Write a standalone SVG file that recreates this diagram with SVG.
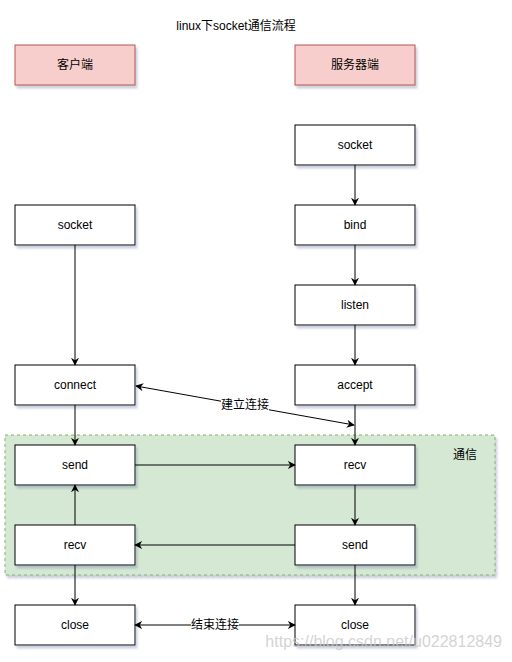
<svg xmlns="http://www.w3.org/2000/svg" width="512" height="662" viewBox="0 0 512 662">
<style>
.box{fill:#ffffff;stroke:#000000;stroke-width:1;filter:url(#sh)}
.hdr{fill:#f8cecc;stroke:#b85450;stroke-width:1;filter:url(#sh)}
.t{font-family:"Liberation Sans","Noto Sans CJK SC",sans-serif;font-size:12px;fill:#000;text-anchor:middle;dominant-baseline:central}
.e{fill:none;stroke:#000;stroke-width:1}
.lbl{fill:#ffffff}
</style>
<defs>
<filter id="sh" x="-10%" y="-10%" width="130%" height="140%">
<feGaussianBlur in="SourceAlpha" stdDeviation="1"/>
<feOffset dx="2" dy="3" result="o"/>
<feFlood flood-color="#6c7a9c" flood-opacity="0.35"/>
<feComposite in2="o" operator="in"/>
<feMerge><feMergeNode/><feMergeNode in="SourceGraphic"/></feMerge>
</filter>
<marker id="ar" viewBox="0 0 10 10" refX="9" refY="5" markerWidth="8" markerHeight="8" markerUnits="userSpaceOnUse" orient="auto-start-reverse">
<path d="M0,0 L10,5 L0,10 L3,5 Z" fill="#000"/>
</marker>
</defs>
<rect width="512" height="662" fill="#ffffff"/>
<text class="t" x="236" y="26">linux下socket通信流程</text>
<g id="comm">
<rect x="5" y="435" width="490" height="140" fill="#d5e8d4" stroke="#82b366" stroke-dasharray="3,3" filter="url(#sh)"/>
<text class="t" x="465" y="455">通信</text>
</g>
<g id="client-hdr"><rect class="hdr" x="15" y="45" width="120" height="40"/><text class="t" x="75" y="65">客户端</text></g>
<g id="server-hdr"><rect class="hdr" x="295" y="45" width="120" height="40"/><text class="t" x="355" y="65">服务器端</text></g>
<g id="s-socket"><rect class="box" x="295" y="125" width="120" height="40"/><text class="t" x="355" y="145">socket</text></g>
<g id="s-bind"><rect class="box" x="295" y="205" width="120" height="40"/><text class="t" x="355" y="225">bind</text></g>
<g id="s-listen"><rect class="box" x="295" y="285" width="120" height="40"/><text class="t" x="355" y="305">listen</text></g>
<g id="s-accept"><rect class="box" x="295" y="365" width="120" height="40"/><text class="t" x="355" y="385">accept</text></g>
<g id="s-recv"><rect class="box" x="295" y="445" width="120" height="40"/><text class="t" x="355" y="465">recv</text></g>
<g id="s-send"><rect class="box" x="295" y="525" width="120" height="40"/><text class="t" x="355" y="545">send</text></g>
<g id="s-close"><rect class="box" x="295" y="605" width="120" height="40"/><text class="t" x="355" y="625">close</text></g>
<g id="c-socket"><rect class="box" x="15" y="205" width="120" height="40"/><text class="t" x="75" y="225">socket</text></g>
<g id="c-connect"><rect class="box" x="15" y="365" width="120" height="40"/><text class="t" x="75" y="385">connect</text></g>
<g id="c-send"><rect class="box" x="15" y="445" width="120" height="40"/><text class="t" x="75" y="465">send</text></g>
<g id="c-recv"><rect class="box" x="15" y="525" width="120" height="40"/><text class="t" x="75" y="545">recv</text></g>
<g id="c-close"><rect class="box" x="15" y="605" width="120" height="40"/><text class="t" x="75" y="625">close</text></g>
<g id="connectors">
<line class="e" x1="355" y1="165" x2="355" y2="205" marker-end="url(#ar)"/>
<line class="e" x1="355" y1="245" x2="355" y2="285" marker-end="url(#ar)"/>
<line class="e" x1="355" y1="325" x2="355" y2="365" marker-end="url(#ar)"/>
<line class="e" x1="355" y1="405" x2="355" y2="445" marker-end="url(#ar)"/>
<line class="e" x1="355" y1="485" x2="355" y2="525" marker-end="url(#ar)"/>
<line class="e" x1="355" y1="565" x2="355" y2="605" marker-end="url(#ar)"/>
<line class="e" x1="75" y1="245" x2="75" y2="365" marker-end="url(#ar)"/>
<line class="e" x1="75" y1="405" x2="75" y2="445" marker-end="url(#ar)"/>
<line class="e" x1="75" y1="525" x2="75" y2="485" marker-end="url(#ar)"/>
<line class="e" x1="75" y1="565" x2="75" y2="605" marker-end="url(#ar)"/>
<line class="e" x1="135" y1="465" x2="295" y2="465" marker-end="url(#ar)"/>
<line class="e" x1="295" y1="545" x2="135" y2="545" marker-end="url(#ar)"/>
<line class="e" x1="136" y1="386" x2="354" y2="425" marker-start="url(#ar)" marker-end="url(#ar)"/>
<rect class="lbl" x="221" y="398" width="48" height="14"/>
<text class="t" x="245" y="405">建立连接</text>
<line class="e" x1="135" y1="625" x2="295" y2="625" marker-start="url(#ar)" marker-end="url(#ar)"/>
<rect class="lbl" x="191" y="618" width="48" height="14"/>
<text class="t" x="215" y="625">结束连接</text>
</g>
<text x="502" y="647" font-family="Liberation Sans,sans-serif" font-size="16" fill="#c8c8c8" fill-opacity="0.8" text-anchor="end">https://blog.csdn.net/u022812849</text>
</svg>
